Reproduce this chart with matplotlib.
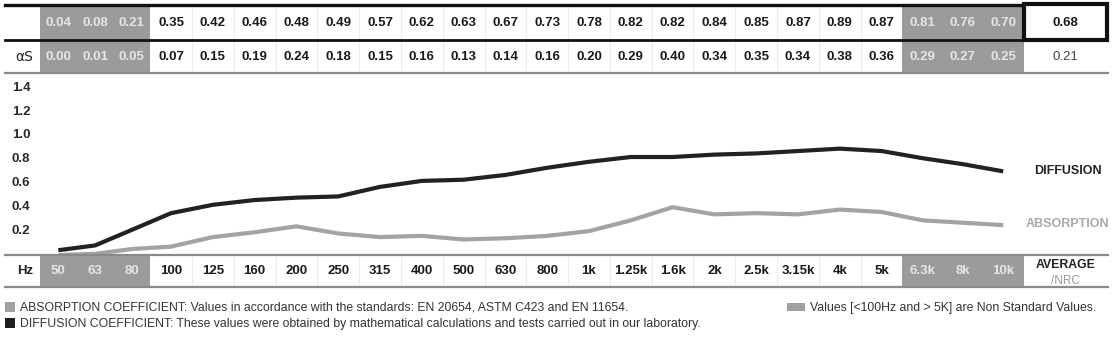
import matplotlib
matplotlib.use("Agg")
import matplotlib.pyplot as plt
from matplotlib.patches import Rectangle

plt.rcParams['font.family'] = ['Liberation Sans', 'DejaVu Sans']

# ---------------- data ----------------
freqs = ['50', '63', '80', '100', '125', '160', '200', '250', '315', '400', '500',
         '630', '800', '1k', '1.25k', '1.6k', '2k', '2.5k', '3.15k', '4k', '5k',
         '6.3k', '8k', '10k']
diffusion = [0.04, 0.08, 0.21, 0.35, 0.42, 0.46, 0.48, 0.49, 0.57, 0.62, 0.63,
             0.67, 0.73, 0.78, 0.82, 0.82, 0.84, 0.85, 0.87, 0.89, 0.87,
             0.81, 0.76, 0.70]
absorption = [0.00, 0.01, 0.05, 0.07, 0.15, 0.19, 0.24, 0.18, 0.15, 0.16, 0.13,
              0.14, 0.16, 0.20, 0.29, 0.40, 0.34, 0.35, 0.34, 0.38, 0.36,
              0.29, 0.27, 0.25]
nonstandard = [True] * 3 + [False] * 18 + [True] * 3
avg_diffusion = 0.68
nrc_absorption = 0.21
yticks = [0.2, 0.4, 0.6, 0.8, 1.0, 1.2, 1.4]

# ---------------- layout (pixels) ----------------
W, H = 1118, 339
DPI = 100
LEFT, LABEL_R = 5, 40
widths = [36.7] * 3 + [41.8] * 18 + [40.3] * 3
edges = [LABEL_R]
for w in widths:
    edges.append(edges[-1] + w)
AVG_L, AVG_R, RIGHT = edges[-1], 1107, 1108
centers = [(edges[i] + edges[i + 1]) / 2 for i in range(len(widths))]

R1_T, R1_B = 5, 40
R2_T, R2_B = 40, 73
HZ_T, HZ_B = 255, 287
CH_T = 80

GRAY = '#9b9b9b'
GRAY_TXT = '#e6e6e6'
LINE_GRAY = '#a3a3a3'

fig = plt.figure(figsize=(W / DPI, H / DPI), dpi=DPI)
fig.patch.set_facecolor('white')

# chart axes: x in pixels, y in data units
ax = fig.add_axes([0, (H - HZ_T) / H, 1, (HZ_T - CH_T) / H])
ax.set_xlim(0, W)
ppu = 119.5  # pixels per unit of coefficient
ax.set_ylim(0, (HZ_T - CH_T) / ppu)
ax.axis('off')
ax.plot(centers, absorption, color=LINE_GRAY, lw=3.0, solid_capstyle='butt', zorder=2)
ax.plot(centers, diffusion, color='#222222', lw=3.0, solid_capstyle='butt', zorder=3)
for t in yticks:
    ax.text(12, t, f'{t:.1f}', ha='left', va='center', fontsize=9.5,
            fontweight='bold', color='#2a2a2a')
ax.text(1068, diffusion[-1], 'DIFFUSION', ha='center', va='center', fontsize=9,
        fontweight='bold', color='#222222')
ax.text(1068, absorption[-1] + 0.01, 'ABSORPTION', ha='center', va='center', fontsize=9,
        fontweight='bold', color='#a8a8a8')

# table overlay axes in pixel coords
tb = fig.add_axes([0, 0, 1, 1])
tb.set_xlim(0, W)
tb.set_ylim(H, 0)
tb.axis('off')
tb.patch.set_alpha(0)

# gray cells and faint separators
for i, ns in enumerate(nonstandard):
    if ns:
        tb.add_patch(Rectangle((edges[i], R1_T), widths[i] + 0.3, R2_B - R1_T,
                               facecolor=GRAY, edgecolor='none', zorder=1))
        tb.add_patch(Rectangle((edges[i], HZ_T), widths[i] + 0.3, HZ_B - HZ_T,
                               facecolor=GRAY, edgecolor='none', zorder=1))
    elif i > 3:
        for (a, b) in [(R1_T, R2_B), (HZ_T, HZ_B)]:
            tb.plot([edges[i], edges[i]], [a, b], color='#ececec', lw=0.8, zorder=0.5)

# horizontal rules
tb.plot([LEFT, AVG_L], [R1_T, R1_T], color='#111111', lw=2.4, zorder=3)
tb.plot([LEFT, AVG_L], [R1_B, R1_B], color='#111111', lw=2.0, zorder=3)
tb.plot([LEFT, RIGHT], [R2_B, R2_B], color='#8a8a8a', lw=1.6, zorder=3)
tb.plot([LEFT, RIGHT], [HZ_T, HZ_T], color='#8a8a8a', lw=1.6, zorder=3)
tb.plot([LEFT, RIGHT], [HZ_B, HZ_B], color='#8a8a8a', lw=1.6, zorder=3)
# average box
tb.add_patch(Rectangle((AVG_L + 1, R1_T - 1), AVG_R - AVG_L - 1, R1_B - R1_T + 1,
                       facecolor='none', edgecolor='#111111', lw=3.0, zorder=4))

fs = 9.5
r1y = (R1_T + R1_B) / 2 + 0.5
r2y = (R2_T + R2_B) / 2 + 0.5
hzy = (HZ_T + HZ_B) / 2 + 0.5
tb.text((LEFT + LABEL_R) / 2 + 2, r2y, 'αS', ha='center', va='center',
        fontsize=fs + 0.5, color='#222222', family=['DejaVu Sans'])
tb.text((LEFT + LABEL_R) / 2 + 3, hzy, 'Hz', ha='center', va='center',
        fontsize=fs, fontweight='bold', color='#222222')
for i in range(len(freqs)):
    c = GRAY_TXT if nonstandard[i] else '#1a1a1a'
    tb.text(centers[i], r1y, f'{diffusion[i]:.2f}', ha='center', va='center',
            fontsize=fs, fontweight='bold', color=c, zorder=5)
    tb.text(centers[i], r2y, f'{absorption[i]:.2f}', ha='center', va='center',
            fontsize=fs, fontweight='bold', color=c, zorder=5)
    tb.text(centers[i], hzy, freqs[i], ha='center', va='center',
            fontsize=fs, fontweight='bold', color=c, zorder=5)
avx = (AVG_L + AVG_R) / 2
tb.text(avx, r1y, f'{avg_diffusion:.2f}', ha='center', va='center',
        fontsize=fs, fontweight='bold', color='#1a1a1a', zorder=5)
tb.text(avx, r2y, f'{nrc_absorption:.2f}', ha='center', va='center',
        fontsize=fs, color='#444444', zorder=5)
tb.text(avx, 265, 'AVERAGE', ha='center', va='center', fontsize=8.8,
        fontweight='bold', color='#222222')
tb.text(avx, 281, '/NRC', ha='center', va='center', fontsize=8.5,
        color='#9a9a9a')

# footer legend
tb.add_patch(Rectangle((5, 302), 10, 10, facecolor='#a0a0a0', edgecolor='none'))
tb.add_patch(Rectangle((5, 318), 10, 10, facecolor='#1e1e1e', edgecolor='none'))
tb.text(20, 307.5, 'ABSORPTION COEFFICIENT: Values in accordance with the standards: '
        'EN 20654, ASTM C423 and EN 11654.', ha='left', va='center',
        fontsize=8.85, color='#333333')
tb.text(20, 323.5, 'DIFFUSION COEFFICIENT: These values were obtained by mathematical '
        'calculations and tests carried out in our laboratory.', ha='left',
        va='center', fontsize=8.85, color='#333333')
tb.add_patch(Rectangle((787, 303), 18, 8, facecolor='#a0a0a0', edgecolor='none'))
tb.text(810, 307.5, 'Values [<100Hz and > 5K] are Non Standard Values.', ha='left',
        va='center', fontsize=8.85, color='#333333')

fig.savefig('out.png', dpi=DPI, facecolor='white')
